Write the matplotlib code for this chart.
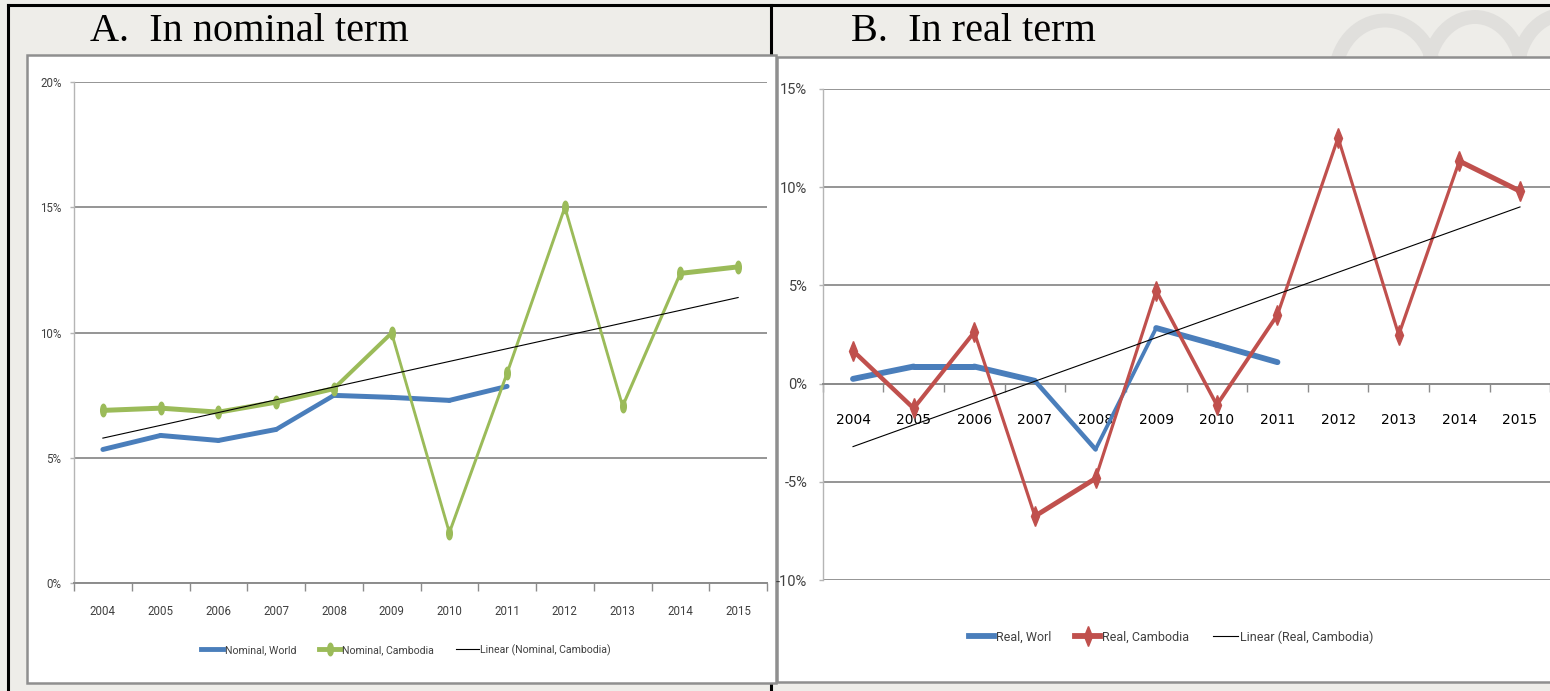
import numpy as np
import matplotlib
matplotlib.use("Agg")
import matplotlib.pyplot as plt
from matplotlib.lines import Line2D
from matplotlib.markers import MarkerStyle
from matplotlib.transforms import Affine2D
from matplotlib.patches import Rectangle, Ellipse

# growth rates, percent
years = ['2004', '2005', '2006', '2007', '2008', '2009',
         '2010', '2011', '2012', '2013', '2014', '2015']
nominal_world = [5.33, 5.89, 5.69, 6.13, 7.49, 7.41, 7.29, 7.85]
nominal_cambodia = [6.89, 6.98, 6.82, 7.22, 7.76, 9.98, 2.01, 8.38, 15.0, 7.06, 12.36, 12.62]
real_world = [0.24, 0.87, 0.87, 0.14, -3.35, 2.83, 1.97, 1.09]
real_cambodia = [1.67, -1.26, 2.62, -6.75, -4.83, 4.73, -1.09, 3.5, 12.52, 2.48, 11.33, 9.8]

nominal_ticks = [0, 5, 10, 15, 20]
nominal_ticklabels = ['0%', '5%', '10%', '15%', '20%']
real_ticks = [-10, -5, 0, 5, 10, 15]
real_ticklabels = ['-10%', '-5%', '0%', '5%', '10%', '15%']

BLUE = '#4a7ebb'
GREEN = '#9bbb59'
RED = '#c0504d'
GRID = '#8c8c8c'
SANS = ['Roboto', 'DejaVu Sans']

W, H = 1550, 691
fig = plt.figure(figsize=(W / 100, H / 100), dpi=100)
fig.patch.set_facecolor('#eeede9')


def box(x0, y0, x1, y1):
    # pixel box, origin top-left -> figure fraction rect
    return [x0 / W, 1 - y1 / H, (x1 - x0) / W, (y1 - y0) / H]


def fig_line(xs, ys, **kw):
    fig.add_artist(Line2D([x / W for x in xs], [1 - y / H for y in ys],
                          transform=fig.transFigure, **kw))


# faint watermark rings in the header
for cx, cy, rx, ry in [(1385, 78, 100, 115), (1475, 76, 95, 118), (1565, 72, 95, 115)]:
    fig.add_artist(Ellipse((cx / W, 1 - cy / H), rx / W, ry / H, transform=fig.transFigure,
                           facecolor='none', edgecolor='#e0dfdc', lw=10, zorder=-4))

# table rules
fig_line([8, W], [5, 5], color='black', lw=2.2, zorder=-3)
fig_line([8, 8], [5, H], color='black', lw=2.2, zorder=-3)
fig_line([771, 771], [5, H], color='black', lw=2.2, zorder=-3)

# chart frames
for x0, y0, x1, y1 in [(27, 55, 776, 683), (777, 57, 1560, 682)]:
    r = box(x0, y0, x1, y1)
    fig.add_artist(Rectangle((r[0], r[1]), r[2], r[3], transform=fig.transFigure,
                             facecolor='white', edgecolor='#8f8f8f', lw=1.8, zorder=-2))

fig.text(90 / W, 1 - 41 / H, 'A.  In nominal term', family='Liberation Serif',
         fontsize=29, va='baseline', ha='left')
fig.text(851 / W, 1 - 41 / H, 'B.  In real term', family='Liberation Serif',
         fontsize=29, va='baseline', ha='left')


def draw_series(ax, y, color, w_flat, w_steep, z, marker=None, ms=0):
    # line looks thinner on steep segments, like the squeezed Excel export
    x = np.arange(len(y))
    pts = ax.transData.transform(np.column_stack([x, y]))
    s = w_steep / w_flat
    for i in range(len(y) - 1):
        dx, dy = pts[i + 1] - pts[i]
        w = w_flat * s * np.hypot(dx / s, dy) / np.hypot(dx, dy)
        ax.plot(x[i:i + 2], y[i:i + 2], color=color, lw=w * 0.72,
                solid_capstyle='round', zorder=z)
    if marker is not None:
        ax.plot(x, y, ls='none', marker=marker, ms=ms, color=color,
                mec=color, zorder=z + 0.1)


def trend(ax, y):
    x = np.arange(len(y))
    k, b = np.polyfit(x, y, 1)
    ax.plot([x[0], x[-1]], [b, b + k * x[-1]], color='black', lw=0.8, zorder=5)


def style_axes(ax, ticks, ticklabels, fs, xpad, ypad):
    ax.set_xlim(-0.5, 11.5)
    ax.set_ylim(ticks[0], ticks[-1])
    ax.set_facecolor('none')
    for side in ['top', 'right']:
        ax.spines[side].set_visible(False)
    ax.spines['left'].set_color('#b5b5b5')
    ax.spines['left'].set_linewidth(1.0)
    ax.spines['bottom'].set_color(GRID)
    ax.spines['bottom'].set_linewidth(1.4)
    ax.set_yticks(ticks)
    ax.set_yticklabels(ticklabels, family=SANS, fontsize=fs, color='#404040')
    ax.set_xticks(range(len(years)))
    ax.set_xticklabels(years, family=SANS, fontsize=fs, color='#404040')
    ax.set_xticks(np.arange(-0.5, len(years)), minor=True)
    ax.tick_params(axis='x', which='major', length=0, pad=xpad)
    ax.tick_params(axis='x', which='minor', length=5.8, width=1.0, color=GRID)
    ax.tick_params(axis='y', length=3, width=1.0, color='#b5b5b5', pad=ypad)
    ax.grid(axis='y', color=GRID, lw=1.3, zorder=0)
    ax.set_axisbelow(True)


# A. nominal
ax1 = fig.add_axes(box(74, 82, 767, 583))
style_axes(ax1, nominal_ticks, nominal_ticklabels, 8.3, 16, 6)
oval = MarkerStyle('o', transform=Affine2D().scale(0.45, 1.0))
draw_series(ax1, nominal_world, BLUE, 5.0, 3.0, 3)
draw_series(ax1, nominal_cambodia, GREEN, 5.0, 2.6, 4, marker=oval, ms=9)
trend(ax1, nominal_cambodia)

h1 = [Line2D([], [], color=BLUE, lw=3.5),
      Line2D([], [], color=GREEN, lw=3.5, marker=oval, ms=9),
      Line2D([], [], color='black', lw=0.8)]
fig.legend(h1, ['Nominal, World', 'Nominal, Cambodia', 'Linear (Nominal, Cambodia)'],
           loc='center', bbox_to_anchor=(406 / W, 1 - 650 / H), ncol=3, frameon=False,
           prop={'family': SANS, 'size': 7.6}, handlelength=2.1,
           handletextpad=0.15, columnspacing=2.1, labelcolor='#404040')

# B. real
ax2 = fig.add_axes(box(822.7, 89, 1550.3, 580))
style_axes(ax2, real_ticks, real_ticklabels, 10.5, 21, 8)
ax2.spines['bottom'].set_position(('data', 0))
diamond = MarkerStyle('D', transform=Affine2D().scale(0.45, 1.0))
draw_series(ax2, real_world, BLUE, 6.0, 3.0, 3)
draw_series(ax2, real_cambodia, RED, 5.5, 2.8, 4, marker=diamond, ms=10)
trend(ax2, real_cambodia)

h2 = [Line2D([], [], color=BLUE, lw=4.2),
      Line2D([], [], color=RED, lw=4.2, marker=diamond, ms=10),
      Line2D([], [], color='black', lw=0.8)]
fig.legend(h2, ['Real, Worl', 'Real, Cambodia', 'Linear (Real, Cambodia)'],
           loc='center', bbox_to_anchor=(1171 / W, 1 - 637 / H), ncol=3, frameon=False,
           prop={'family': SANS, 'size': 9.0}, handlelength=2.0,
           handletextpad=0.15, columnspacing=1.9, labelcolor='#404040')

fig.savefig('out.png', dpi=100)
